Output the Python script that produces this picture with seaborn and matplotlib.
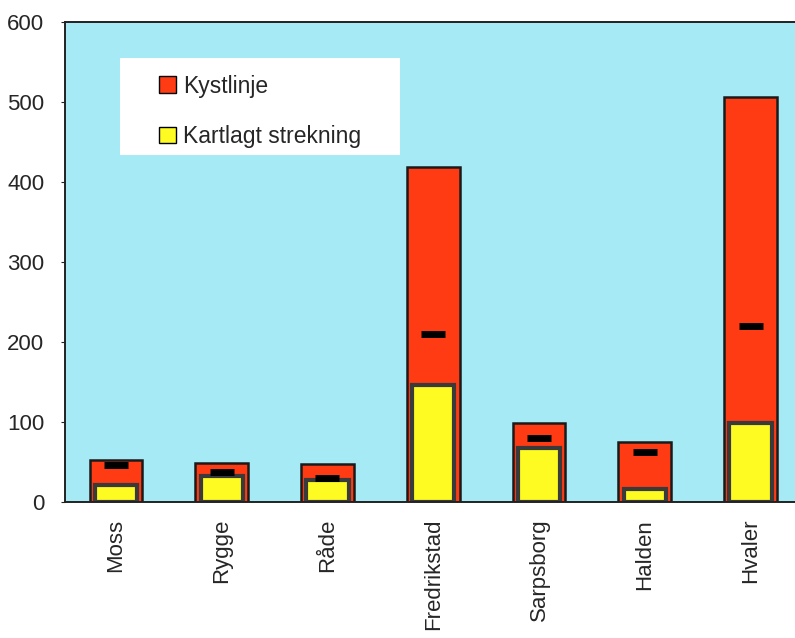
import pandas as pd
import matplotlib
matplotlib.use("Agg")
import matplotlib.pyplot as plt
import seaborn as sns
from matplotlib.patches import Patch, Rectangle

# data
kommuner = ["Moss", "Rygge", "Råde", "Fredrikstad", "Sarpsborg", "Halden", "Hvaler"]
kystlinje = [53, 49, 47, 419, 99, 75, 506]
kartlagt = [21, 33, 27, 146, 67, 16, 99]
markering = [46, 37, 30, 210, 80, 62, 220]

df = pd.DataFrame({
	"Kommune": kommuner,
	"Kystlinje": kystlinje,
	"Kartlagt strekning": kartlagt,
	"Markering": markering,
})

sns.set_style("white")
plt.rcParams["font.family"] = ["Liberation Sans", "DejaVu Sans"]

fig = plt.figure(figsize=(7.95, 6.38), dpi=100)
ax = fig.add_axes([0.082, 0.213, 0.918, 0.753])
ax.set_facecolor("#a6eaf6")

red = "#ff3b14"
yellow = "#fdfb22"

sns.barplot(data=df, x="Kommune", y="Kystlinje", color=red, width=0.5,
	edgecolor="#1a1a1a", linewidth=1.8, saturation=1, ax=ax)
sns.barplot(data=df, x="Kommune", y="Kartlagt strekning", color=yellow, width=0.4,
	edgecolor="#3a3a3a", linewidth=3, saturation=1, ax=ax)
sns.scatterplot(data=df, x="Kommune", y="Markering", marker="_", s=280,
	color="black", linewidth=5, ax=ax, zorder=5)

ax.set_ylim(0, 600)
ax.set_xlim(-0.48, 6.42)
ax.set_yticks([0, 100, 200, 300, 400, 500, 600])
ax.set_xlabel("")
ax.set_ylabel("")
ax.tick_params(axis="y", labelsize=16, length=3, left=True, color="#222222", pad=12)
ax.tick_params(axis="x", labelsize=16, length=0, pad=12)
for lab in ax.get_xticklabels():
	lab.set_rotation(90)

for side in ["left", "bottom", "top"]:
	ax.spines[side].set_visible(True)
	ax.spines[side].set_color("#222222")
	ax.spines[side].set_linewidth(1.4)
ax.spines["right"].set_visible(False)

# white legend box
ax.add_patch(Rectangle((0.075, 0.723), 0.384, 0.202, transform=ax.transAxes,
	facecolor="white", edgecolor="none", zorder=6))

handles = [
	Patch(facecolor=red, edgecolor="black", label="Kystlinje"),
	Patch(facecolor=yellow, edgecolor="black", label="Kartlagt strekning"),
]
leg = ax.legend(handles=handles, loc="upper left", bbox_to_anchor=(0.128, 0.89),
	fontsize=16.5, frameon=False, handlelength=0.75, handleheight=0.75,
	handletextpad=0.3, labelspacing=1.2, borderpad=0, borderaxespad=0)
leg.set_zorder(7)

plt.savefig("out.png", dpi=100)
